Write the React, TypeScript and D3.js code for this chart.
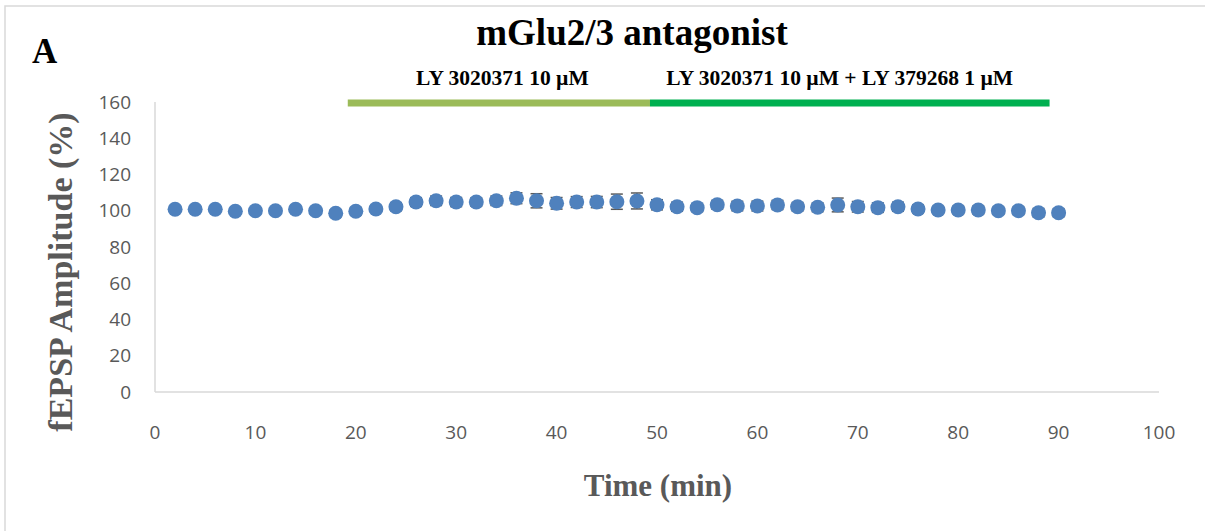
import React from "react";
import * as d3 from "d3";

// Time points (min) and mean fEPSP amplitude (% of baseline) with SEM
const times: number[] = [2, 4, 6, 8, 10, 12, 14, 16, 18, 20, 22, 24, 26, 28, 30, 32, 34, 36, 38, 40, 42, 44, 46, 48, 50, 52, 54, 56, 58, 60, 62, 64, 66, 68, 70, 72, 74, 76, 78, 80, 82, 84, 86, 88, 90];
const amplitude: number[] = [100.8, 100.8, 100.8, 99.7, 100.0, 100.0, 100.8, 100.0, 98.6, 99.7, 101.0, 102.2, 104.8, 105.5, 104.8, 104.8, 105.5, 106.9, 105.5, 104.1, 104.8, 104.8, 105.0, 105.4, 103.3, 102.2, 101.7, 103.3, 102.6, 102.6, 103.2, 102.2, 101.9, 103.2, 102.2, 101.7, 102.2, 101.0, 100.4, 100.4, 100.4, 100.0, 100.0, 98.9, 98.9];
const sem: number[] = [1.2, 1.4, 1.3, 1.5, 1.6, 1.4, 1.5, 1.8, 2.0, 2.1, 1.9, 2.2, 2.4, 2.6, 2.5, 2.3, 2.6, 3.0, 3.9, 3.2, 3.0, 3.1, 4.2, 4.4, 2.8, 2.5, 2.2, 2.4, 2.6, 2.7, 2.5, 2.3, 2.4, 3.8, 2.9, 2.6, 2.5, 2.2, 2.0, 2.1, 2.2, 2.0, 2.1, 2.3, 2.2];

const xTicks: number[] = [0, 10, 20, 30, 40, 50, 60, 70, 80, 90, 100];
const yTicks: number[] = [0, 20, 40, 60, 80, 100, 120, 140, 160];

// Drug application periods (min)
const drugLabels: string[] = ["LY 3020371 10 µM", "LY 3020371 10 µM + LY 379268 1 µM"];
const drugStart: number[] = [19.2, 49.3];
const drugEnd: number[] = [49.3, 89.1];
const drugColors: string[] = ["#9BBB59", "#00B050"];
const drugLabelCenter: number[] = [34.6, 68.2];

const W = 1205;
const H = 531;
const serif = "'Liberation Serif', 'Times New Roman', serif";
const sans = "'Open Sans', 'Liberation Sans', sans-serif";

export default function App() {
  const x = d3.scaleLinear().domain([0, 100]).range([155, 1159]);
  const y = d3.scaleLinear().domain([0, 160]).range([392, 102]);
  const axisColor = "#D9D9D9";
  const textGray = "#595959";
  const capHalf = 6;

  return (
    <svg
      width={W}
      height={H}
      style={{ position: "absolute", left: 0, top: 0, background: "#fff" }}
    >
      {/* chart frame */}
      <rect x={5} y={6} width={W + 20} height={H + 20} fill="#fff" stroke={axisColor} strokeWidth={1.5} />

      {/* panel letter and title */}
      <text x={32} y={63} fontFamily={serif} fontWeight="bold" fontSize={35} fill="#000">A</text>
      <text x={632} y={45} textAnchor="middle" fontFamily={serif} fontWeight="bold" fontSize={37} fill="#000">
        mGlu2/3 antagonist
      </text>

      {/* drug application bars */}
      {drugLabels.map((lab, i) => (
        <g key={lab}>
          <rect
            x={x(drugStart[i])}
            y={99.5}
            width={x(drugEnd[i]) - x(drugStart[i])}
            height={7}
            fill={drugColors[i]}
          />
          <text
            x={x(drugLabelCenter[i])}
            y={85}
            textAnchor="middle"
            fontFamily={serif}
            fontWeight="bold"
            fontSize={21.5}
            fill="#000"
          >
            {lab}
          </text>
        </g>
      ))}

      {/* axes */}
      <line x1={x(0)} x2={x(0)} y1={y(160)} y2={y(0)} stroke={axisColor} strokeWidth={1.5} />
      <line x1={x(0)} x2={x(100)} y1={y(0)} y2={y(0)} stroke={axisColor} strokeWidth={1.5} />

      {yTicks.map((t) => (
        <text key={"y" + t} x={131} y={y(t)} dy="0.35em" textAnchor="end" fontFamily={sans} fontSize={19} fill={textGray}>
          {t}
        </text>
      ))}
      {xTicks.map((t) => (
        <text key={"x" + t} x={x(t)} y={439} textAnchor="middle" fontFamily={sans} fontSize={19} fill={textGray}>
          {t}
        </text>
      ))}

      {/* axis titles */}
      <text x={658} y={496} textAnchor="middle" fontFamily={serif} fontWeight="bold" fontSize={31} fill={textGray}>
        Time (min)
      </text>
      <text
        transform={`translate(72,272) rotate(-90)`}
        textAnchor="middle"
        fontFamily={serif}
        fontWeight="bold"
        fontSize={34}
        fill={textGray}
      >
        fEPSP Amplitude (%)
      </text>

      {/* error bars */}
      {times.map((t, i) => {
        const cx = x(t);
        const top = y(amplitude[i] + sem[i]);
        const bot = y(amplitude[i] - sem[i]);
        return (
          <g key={"e" + t} stroke="#595959" strokeWidth={1.5}>
            <line x1={cx} x2={cx} y1={top} y2={bot} />
            <line x1={cx - capHalf} x2={cx + capHalf} y1={top} y2={top} />
            <line x1={cx - capHalf} x2={cx + capHalf} y1={bot} y2={bot} />
          </g>
        );
      })}

      {/* mean values */}
      {times.map((t, i) => (
        <circle key={"p" + t} cx={x(t)} cy={y(amplitude[i])} r={7.5} fill="#4F81BD" />
      ))}
    </svg>
  );
}
